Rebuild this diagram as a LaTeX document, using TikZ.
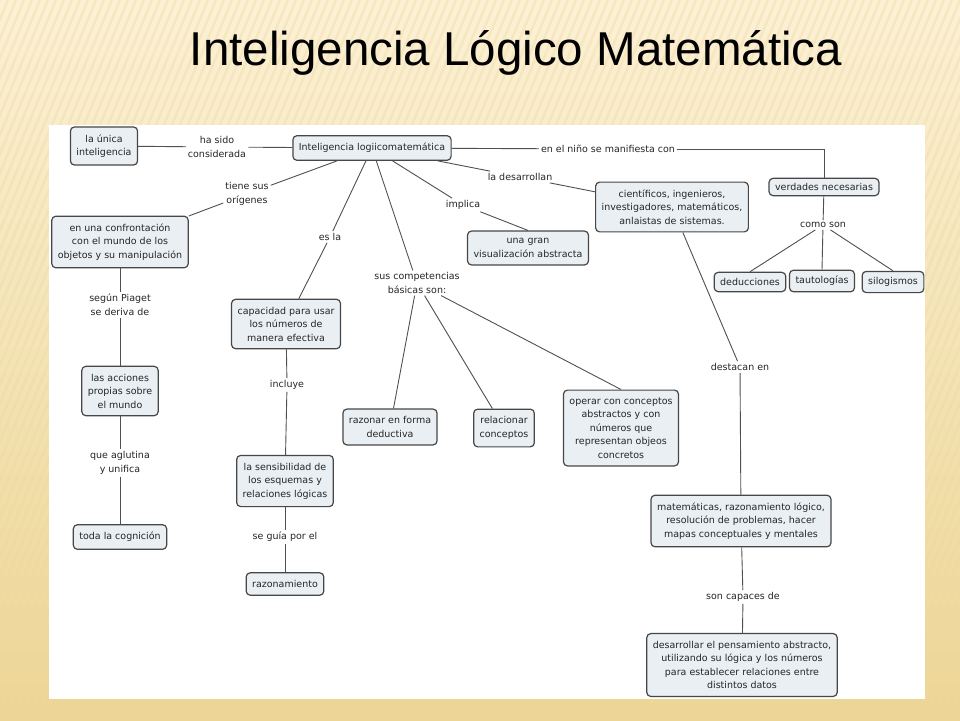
\documentclass[tikz,border=0pt]{standalone}
\usepackage{fontspec}
\setmainfont{DejaVu Sans}
\newfontfamily\titlefont{Liberation Sans}
\usetikzlibrary{positioning}
\definecolor{bgtop}{HTML}{FCF1D6}
\definecolor{bgbot}{HTML}{ECD595}
\definecolor{stripecol}{HTML}{F0D89C}
\definecolor{boxfill}{HTML}{E9EFF3}
\definecolor{boxline}{HTML}{474747}
\definecolor{linkgray}{HTML}{505050}
\definecolor{textgray}{HTML}{262626}
\tikzset{
  concept/.style={draw=boxline, fill=boxfill, rounded corners=4pt, line width=1.2pt,
    align=center, inner xsep=6pt, inner ysep=7.5pt, text=textgray,
    font=\fontsize{9.5}{13.5}\selectfont},
  linkword/.style={align=center, inner sep=2pt, text=textgray,
    font=\fontsize{9.5}{13.5}\selectfont},
  link/.style={draw=linkgray, line width=0.9pt}
}
\begin{document}
\begin{tikzpicture}[x=1pt,y=-1pt]
\useasboundingbox (0,0) rectangle (960,720);
\shade[top color=bgtop, bottom color=bgbot] (0,0) rectangle (960,720);
\begin{scope}
\clip (0,0) rectangle (960,720);
\foreach \x in {-300,-292,...,960} % stripes of the slide
\draw[stripecol, line width=2.5pt, opacity=0.35] (\x,720) -- ++(300,-720);
\end{scope}
\fill[white] (49,125) rectangle (925,699);
\node[font=\titlefont\fontsize{47.5}{50}\selectfont, anchor=base] (title) at (516,65) {Inteligencia Lógico Matemática};
% concepts
\node[concept] (unica) at (104,146) {la única\\inteligencia};
\node[concept] (main) at (372,148) {Inteligencia logiicomatemática};
\node[concept] (confr) at (120,242) {en una confrontación\\con el mundo de los\\objetos y su manipulación};
\node[concept] (acciones) at (120,391) {las acciones\\propias sobre\\el mundo};
\node[concept] (cognicion) at (120,537) {toda la cognición};
\node[concept] (capacidad) at (286,324) {capacidad para usar\\los números de\\manera efectiva};
\node[concept] (sensib) at (285,481) {la sensibilidad de\\los esquemas y\\relaciones lógicas};
\node[concept] (razonam) at (285,584) {razonamiento};
\node[concept] (deductiva) at (390,427) {razonar en forma\\deductiva};
\node[concept] (relacionar) at (504,428) {relacionar\\conceptos};
\node[concept] (operar) at (621,428) {operar con conceptos\\abstractos y con\\números que\\representan objeos\\concretos};
\node[concept] (visual) at (528,248) {una gran\\visualización abstracta};
\node[concept] (cientif) at (672,207) {científicos, ingenieros,\\investigadores, matemáticos,\\anlaistas de sistemas.};
\node[concept, inner ysep=5pt] (verdades) at (824,187) {verdades necesarias};
\node[concept, inner ysep=6pt] (deduc) at (750,282) {deducciones};
\node[concept, inner ysep=6pt] (tauto) at (822,281) {tautologías};
\node[concept, inner ysep=6pt] (silog) at (893,282) {silogismos};
\node[concept] (matem) at (741,521) {matemáticas, razonamiento lógico,\\resolución de problemas, hacer\\mapas conceptuales y mentales};
\node[concept] (desarr) at (742,665) {desarrollar el pensamiento abstracto,\\utilizando su lógica y los números\\para establecer relaciones entre\\distintos datos};
% linking words
\node[linkword] (lsido) at (217,147) {ha sido\\considerada};
\node[linkword] (ltiene) at (247,194) {tiene sus\\orígenes};
\node[linkword] (lesla) at (330,237) {es la};
\node[linkword] (lcomp) at (417,283) {sus competencias\\básicas son:};
\node[linkword] (limplica) at (463,205) {implica};
\node[linkword] (ldesarr) at (520,177) {la desarrollan};
\node[linkword] (lnino) at (608,149) {en el niño se manifiesta con};
\node[linkword] (lcomo) at (823,225) {como son};
\node[linkword] (lpiaget) at (120,305) {según Piaget\\se deriva de};
\node[linkword] (laglut) at (120,463) {que aglutina\\y unifica};
\node[linkword] (lincluye) at (287,385) {incluye};
\node[linkword] (lguia) at (285,537) {se guía por el};
\node[linkword] (ldestacan) at (740,367) {destacan en};
\node[linkword] (lcapaces) at (743,597) {son capaces de};
% connectors
\foreach \a/\b in {unica/lsido, lsido/main, main/ltiene, ltiene/confr, main/lesla,
  lesla/capacidad, main/lcomp, lcomp/deductiva, lcomp/relacionar, main/limplica,
  main/ldesarr, ldesarr/cientif, main/lnino, confr/lpiaget, lpiaget/acciones,
  acciones/laglut, laglut/cognicion, capacidad/lincluye, lincluye/sensib,
  sensib/lguia, lguia/razonam, cientif/ldestacan, ldestacan/matem,
  matem/lcapaces, lcapaces/desarr, verdades/lcomo}
\draw[link] (\a) -- (\b);
\draw[link] (limplica) -- (visual.north);
\draw[link] (lcomp) -- (operar.north);
\draw[link] (lnino) -| (verdades);
\foreach \b in {deduc,tauto,silog}
\draw[link] (lcomo) -- (\b.north);
\end{tikzpicture}
\end{document}
